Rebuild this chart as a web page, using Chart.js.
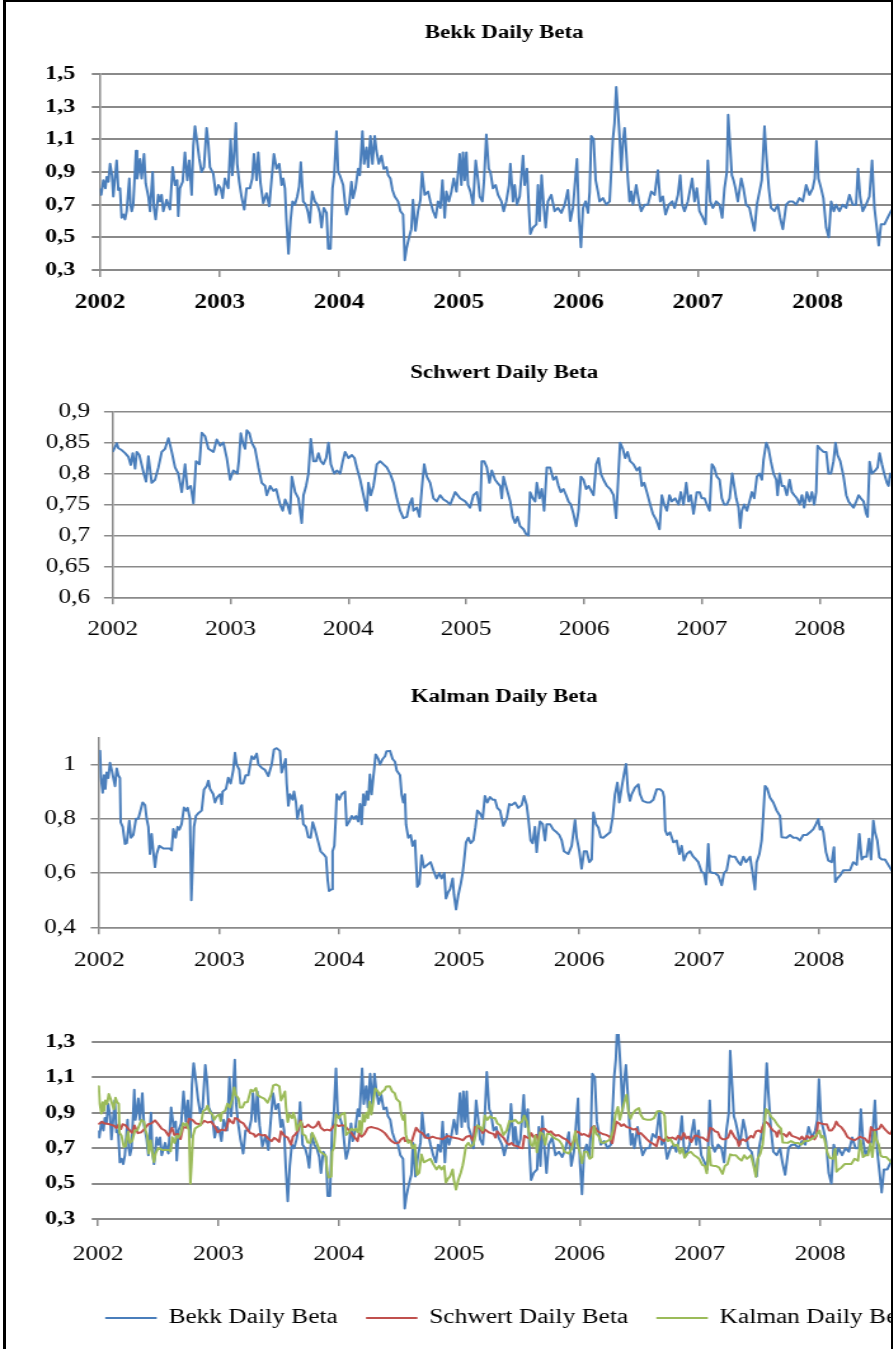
<!DOCTYPE html>
<html><head><meta charset="utf-8"><title>Daily Beta</title>
<script src="https://cdn.jsdelivr.net/npm/chart.js@4.4.1/dist/chart.umd.min.js"></script>
<style>
html,body{margin:0;padding:0;width:893px;height:1349px;overflow:hidden;background:#fff;}
.wrap{position:absolute;left:0;transform-origin:0 0;transform:scaleX(1.27);}
.wrap canvas{display:block;}
#frame{position:absolute;left:3px;top:0;width:885px;height:1400px;border-left:3px solid #000;border-top:2px solid #000;border-right:2px solid #000;z-index:10;pointer-events:none;}
</style></head><body>
<div class="wrap" style="top:0px"><canvas id="bekk" width="794" height="330"></canvas></div>
<div class="wrap" style="top:340px"><canvas id="schwert" width="794" height="340"></canvas></div>
<div class="wrap" style="top:680px"><canvas id="kalman" width="794" height="340"></canvas></div>
<div class="wrap" style="top:1020px"><canvas id="all" width="794" height="318"></canvas></div>
<div id="frame"></div>
<script>
const START_YEAR = 2002;
const yearTicks = [2002, 2003, 2004, 2005, 2006, 2007, 2008];
const bekkTicks = [0.3, 0.5, 0.7, 0.9, 1.1, 1.3, 1.5];
const schwertTicks = [0.6, 0.65, 0.7, 0.75, 0.8, 0.85, 0.9];
const kalmanTicks = [0.4, 0.6, 0.8, 1];
const combinedTicks = [0.3, 0.5, 0.7, 0.9, 1.1, 1.3];
const seriesNames = ['Bekk Daily Beta', 'Schwert Daily Beta', 'Kalman Daily Beta'];

// years since START_YEAR
const bekkT = [
0,.01,.028,.045,.056,.07,.084,.1,.111,.125,
.139,.153,.167,.181,.195,.209,.223,.245,.255,.265,
.278,.301,.31,.32,.334,.348,.368,.382,.404,.418,
.44,.451,.465,.487,.501,.515,.529,.557,.585,.607,
.627,.645,.654,.668,.691,.71,.73,.746,.766,.78,
.794,.813,.83,.849,.869,.891,.905,.919,.947,.969,
.989,1.008,1.025,1.044,1.072,1.092,1.106,1.119,1.136,1.147,
1.164,1.183,1.206,1.225,1.253,1.273,1.287,1.309,1.323,1.342,
1.365,1.392,1.415,1.434,1.454,1.476,1.498,1.518,1.532,1.546,
1.559,1.576,1.593,1.61,1.629,1.649,1.665,1.679,1.699,1.721,
1.74,1.754,1.774,1.796,1.818,1.838,1.852,1.871,1.894,1.908,
1.927,1.944,1.958,1.977,1.991,2.005,2.033,2.047,2.061,2.083,
2.102,2.116,2.136,2.158,2.172,2.194,2.208,2.228,2.242,2.261,
2.278,2.297,2.311,2.331,2.353,2.373,2.395,2.409,2.428,2.445,
2.464,2.492,2.512,2.534,2.548,2.562,2.584,2.603,2.617,2.637,
2.659,2.679,2.693,2.715,2.743,2.762,2.785,2.807,2.826,2.846,
2.863,2.882,2.896,
2.917,2.938,2.957,2.98,3.007,3.021,3.035,3.049,3.063,3.077,
3.097,3.119,3.141,3.161,3.175,3.197,3.211,3.23,3.25,3.264,
3.286,3.308,3.328,3.356,3.375,3.397,3.42,3.431,3.453,3.467,
3.486,3.509,3.537,3.55,3.57,3.587,3.598,3.62,3.648,3.662,
3.676,3.692,3.709,3.726,3.745,3.773,3.801,3.829,3.857,3.885,
3.912,3.932,3.954,3.988,4.004,4.021,4.038,4.06,4.08,4.094,
4.107,4.127,4.144,4.163,4.177,4.205,4.233,4.261,4.274,4.288,
4.302,4.316,4.33,4.344,4.358,4.372,4.386,4.4,4.414,4.428,
4.442,4.456,4.483,4.506,4.525,4.553,4.581,4.609,4.637,4.664,
4.684,4.706,4.728,4.756,4.784,4.804,4.832,4.851,4.868,4.887,
4.915,4.951,4.971,4.99,5.012,5.04,5.063,5.082,5.102,5.124,
5.152,5.18,5.202,5.221,5.241,5.252,5.269,5.283,5.297,5.313,
5.333,5.361,5.38,5.402,5.43,5.453,5.472,5.492,5.514,5.533,
5.556,5.569,5.592,5.611,5.639,5.667,5.686,5.709,5.737,5.764,
5.792,5.82,5.848,5.876,5.904,5.932,5.959,5.976,5.99,6.007,
6.029,6.048,6.071,6.093,6.113,6.135,6.154,6.182,6.21,6.238,
6.266,6.294,6.321,6.338,6.355,6.377,6.405,6.433,6.455,6.475,
6.494,6.511,6.53,6.558,6.586,6.614,6.64];
const bekkBeta = [
.80,.76,.85,.80,.87,.84,.95,.88,.75,.86,
.97,.79,.80,.62,.64,.61,.66,.86,.70,.66,
.70,1.03,.86,.90,.98,.86,1.01,.83,.75,.66,
.90,.68,.61,.76,.72,.76,.66,.73,.67,.93,
.82,.85,.63,.80,.84,1.02,.85,.97,.76,1.06,
1.18,1.08,.98,.90,.93,1.17,1.08,.93,.89,.76,
.82,.80,.74,.86,.80,1.10,.88,.99,1.20,.95,
.84,.75,.67,.80,.80,.86,1.01,.85,1.02,.83,
.71,.77,.69,.85,1.01,.92,.95,.82,.86,.80,
.60,.40,.60,.72,.70,.75,.81,.96,.72,.70,
.65,.59,.78,.72,.70,.65,.56,.68,.65,.43,
.43,.80,.88,1.15,.90,.88,.82,.72,.64,.70,
.84,.74,.80,.92,.88,1.15,.95,1.05,.93,1.12,
.95,1.12,1.03,.95,1.00,.92,.93,.88,.86,.79,
.75,.72,.66,.64,.36,.43,.50,.55,.73,.54,
.66,.73,.90,.76,.78,.72,.66,.62,.72,.68,
.85,.62,.78,
.72,.78,.86,.78,1.01,.82,1.02,.85,1.02,.82,
.78,.70,.97,.85,.75,.72,.85,1.13,.92,.90,
.80,.82,.76,.72,.66,.72,.82,.95,.72,.82,
.70,.75,1.00,.82,.92,.66,.52,.56,.58,.82,
.60,.88,.70,.56,.72,.76,.66,.68,.65,.70,
.79,.60,.68,.98,.62,.44,.68,.72,.65,.78,
1.12,1.10,.85,.78,.72,.74,.70,.72,.90,1.10,
1.20,1.42,1.28,1.12,.91,1.08,1.17,1.02,.85,.72,
.78,.70,.82,.72,.66,.70,.70,.78,.76,.91,
.72,.75,.64,.70,.72,.68,.76,.88,.70,.66,
.72,.86,.72,.80,.66,.62,.58,.97,.72,.68,
.72,.70,.62,.80,.90,1.25,1.05,.88,.85,.80,
.72,.86,.80,.70,.68,.60,.54,.70,.78,.85,
1.18,1.02,.80,.68,.66,.70,.62,.55,.70,.72,
.72,.70,.74,.72,.82,.76,.80,.86,1.09,.86,
.80,.74,.56,.50,.72,.66,.70,.66,.70,.68,
.76,.70,.70,.92,.75,.66,.70,.75,.97,.68,
.56,.45,.58,.58,.62,.66,.68];

const schwertT = [
0,.02,.034,.048,.076,.105,.133,.153,.17,.19,
.204,.226,.246,.266,.283,.303,.331,.359,.388,.416,
.444,.473,.501,.529,.557,.586,.614,.634,.662,.685,
.707,.736,.756,.784,.812,.855,.883,.911,.939,.968,
.996,1.024,1.058,1.07,1.087,1.104,1.123,1.138,1.16,1.18,
1.208,1.237,1.265,1.293,1.307,1.336,1.364,1.387,1.42,1.443,
1.463,1.483,1.505,1.52,1.548,1.576,1.604,1.619,1.641,1.661,
1.681,1.704,1.726,1.746,1.766,1.788,1.811,1.831,1.851,1.879,
1.902,1.93,1.952,1.972,2.001,2.029,2.052,2.071,2.1,2.128,
2.156,2.17,2.19,2.213,2.241,2.269,2.298,2.326,2.354,2.383,
2.411,2.439,2.467,2.496,2.518,2.541,2.552,2.581,2.603,2.623,
2.643,2.666,2.694,2.722,2.75,2.779,2.807,2.835,2.864,2.906,
2.948,2.991,3.033,3.061,3.09,3.118,3.132,3.152,3.175,3.197,
3.217,3.245,3.265,3.288,3.302,3.316,3.344,3.373,3.395,3.415,
3.435,3.457,3.486,3.508,3.528,3.542,3.565,3.585,3.599,3.622,
3.641,3.661,3.684,3.712,3.74,3.763,3.783,3.803,3.825,3.848,
3.868,3.888,3.91,3.933,3.953,3.973,3.995,4.018,4.038,4.066,
4.08,4.103,4.123,4.142,4.165,4.193,4.222,4.25,4.272,4.292,
4.306,4.329,4.349,4.369,4.391,4.42,4.448,4.471,4.49,4.51,
4.533,4.561,4.584,4.612,4.64,4.66,4.68,4.703,4.725,4.745,
4.773,4.802,4.821,4.844,4.867,4.887,4.906,4.929,4.957,4.98,
4.999,5.022,5.042,5.065,5.085,5.104,5.127,5.15,5.169,5.189,
5.212,5.235,5.257,5.274,5.291,5.311,5.325,5.339,5.359,5.382,
5.404,5.424,5.444,5.467,5.489,5.509,5.523,5.546,5.566,5.585,
5.608,5.631,5.642,5.659,5.679,5.699,5.721,5.744,5.764,5.784,
5.806,5.829,5.849,5.868,5.891,5.914,5.934,5.953,5.97,5.982,
6.004,6.032,6.055,6.075,6.095,6.117,6.134,6.151,6.174,6.202,
6.225,6.245,6.264,6.287,6.31,6.33,6.349,6.372,6.394,6.406,
6.423,6.443,6.471,6.491,6.508,6.528,6.547,6.57,6.584,6.598,
6.627];
const schwertBeta = [
.835,.843,.849,.841,.838,.833,.827,.814,.833,.808,
.835,.830,.814,.798,.787,.828,.785,.790,.810,.835,
.840,.857,.835,.810,.800,.770,.815,.775,.780,.752,
.820,.815,.866,.860,.840,.835,.855,.845,.850,.825,
.790,.805,.800,.820,.865,.850,.840,.870,.865,.850,
.840,.810,.785,.780,.765,.780,.772,.775,.750,.740,
.758,.750,.735,.795,.770,.760,.720,.765,.780,.800,
.856,.820,.820,.833,.820,.815,.825,.850,.815,.800,
.805,.800,.820,.835,.825,.830,.825,.810,.790,.765,
.740,.785,.765,.780,.815,.820,.815,.810,.800,.785,
.760,.740,.728,.730,.750,.760,.740,.745,.730,.775,
.815,.795,.785,.760,.755,.765,.758,.755,.750,.770,
.760,.755,.745,.765,.770,.740,.820,.820,.810,.785,
.805,.790,.785,.780,.760,.795,.775,.755,.730,.720,
.730,.715,.710,.702,.700,.770,.760,.755,.785,.760,
.775,.740,.810,.810,.790,.795,.780,.770,.775,.765,
.755,.750,.735,.715,.740,.795,.790,.775,.780,.770,
.765,.815,.825,.800,.790,.780,.775,.765,.728,.800,
.850,.840,.825,.835,.820,.815,.805,.810,.780,.785,
.770,.750,.735,.725,.710,.765,.750,.740,.765,.755,
.760,.750,.770,.750,.785,.755,.765,.735,.770,.770,
.760,.760,.750,.740,.815,.810,.795,.790,.760,.750,
.750,.760,.800,.780,.760,.745,.712,.740,.750,.740,
.755,.770,.760,.795,.800,.790,.822,.850,.840,.820,
.800,.790,.765,.800,.780,.780,.765,.790,.770,.765,
.760,.750,.765,.745,.770,.755,.770,.750,.770,.845,
.840,.835,.835,.800,.800,.820,.850,.830,.820,.795,
.765,.755,.750,.745,.755,.765,.760,.755,.735,.730,
.819,.800,.805,.810,.833,.815,.800,.785,.780,.800,
.790];

const kalmanT = [
0,.006,.014,.028,.039,.05,.061,.075,.089,.103,
.117,.131,.145,.158,.172,.178,.195,.214,.228,.25,
.264,.283,.306,.325,.339,.361,.381,.395,.409,.422,
.436,.45,.464,.478,.5,.534,.561,.589,.603,.617,
.636,.653,.667,.686,.706,.723,.736,.756,.767,.778,
.789,.806,.825,.853,.873,.895,.909,.923,.95,.964,
.984,1.006,1.02,1.028,1.056,1.075,1.095,1.117,1.131,1.145,
1.167,1.178,1.2,1.22,1.242,1.27,1.289,1.312,1.326,1.353,
1.381,1.409,1.437,1.456,1.478,1.506,1.52,1.534,1.553,1.562,
1.576,1.59,1.612,1.623,1.64,1.651,1.667,1.687,1.701,1.723,
1.742,1.762,1.779,1.798,1.826,1.845,1.868,1.89,1.904,1.915,
1.937,1.945,1.959,1.97,1.979,2.001,2.02,2.048,2.062,2.084,
2.104,2.123,2.14,2.159,2.173,2.187,2.201,2.215,2.229,2.243,
2.256,2.27,2.284,2.304,2.326,2.34,2.362,2.382,2.395,2.423,
2.445,2.465,2.479,2.507,2.52,2.534,2.548,2.557,2.576,2.596,
2.612,2.632,2.651,2.668,2.687,2.707,2.734,2.762,2.785,2.812,
2.835,2.854,2.876,2.89,2.909,2.924,2.946,2.957,2.974,2.993,
3.013,3.029,3.04,3.057,3.077,3.096,3.118,3.135,3.152,3.174,
3.196,3.215,3.235,3.257,3.279,3.299,3.318,3.341,3.368,3.396,
3.418,3.438,3.466,3.493,3.521,3.541,3.563,3.577,3.596,3.613,
3.632,3.646,3.66,3.674,3.696,3.716,3.73,3.757,3.785,3.813,
3.835,3.855,3.874,3.91,3.938,3.966,3.98,4.002,4.021,4.041,
4.063,4.085,4.105,4.119,4.141,4.16,4.18,4.202,4.23,4.258,
4.28,4.299,4.319,4.335,4.355,4.374,4.391,4.408,4.424,4.438,
4.466,4.494,4.508,4.53,4.563,4.591,4.619,4.647,4.674,4.697,
4.708,4.719,4.735,4.758,4.786,4.813,4.836,4.855,4.874,4.897,
4.925,4.952,4.975,4.994,5.022,5.041,5.058,5.077,5.091,5.114,
5.133,5.161,5.189,5.208,5.23,5.253,5.272,5.3,5.327,5.347,
5.369,5.391,5.425,5.447,5.466,5.48,5.503,5.522,5.536,5.55,
5.569,5.591,5.619,5.647,5.675,5.689,5.73,5.758,5.786,5.814,
5.842,5.869,5.897,5.925,5.953,5.975,5.994,6.008,6.022,6.036,
6.058,6.078,6.106,6.125,6.136,6.153,6.175,6.203,6.231,6.258,
6.286,6.314,6.336,6.356,6.375,6.397,6.417,6.434,6.453,6.467,
6.486,6.503,6.522,6.55,6.578,6.606,6.648];
const kalmanBeta = [
1.04,1.05,.951,.896,.96,.91,.97,.95,1.006,.98,
.95,.92,.985,.96,.95,.787,.77,.707,.71,.793,
.73,.74,.80,.80,.823,.86,.85,.80,.77,.67,
.744,.68,.622,.67,.70,.69,.69,.69,.683,.762,
.73,.77,.76,.78,.841,.83,.84,.80,.50,.628,
.77,.811,.82,.83,.908,.92,.94,.91,.89,.86,
.88,.89,.854,.90,.91,.951,.93,.98,1.043,1.0,
.98,.93,.93,.96,.96,1.03,1.02,1.04,1.0,.988,
.98,.957,1.0,1.055,1.06,1.05,.97,.99,1.02,.93,
.848,.89,.87,.90,.86,.80,.83,.85,.78,.77,
.732,.73,.787,.76,.713,.68,.67,.658,.573,.534,
.54,.68,.70,.79,.89,.87,.89,.90,.775,.79,
.81,.80,.81,.79,.854,.78,.89,.85,.90,.87,
.963,.89,.95,1.037,1.02,1.0,1.02,1.03,1.049,1.05,
1.02,1.01,.978,.96,.89,.86,.89,.778,.73,.74,
.70,.72,.549,.56,.665,.62,.63,.64,.61,.58,
.60,.58,.60,.506,.53,.54,.58,.52,.466,.52,
.56,.60,.64,.713,.73,.71,.72,.768,.83,.82,
.80,.884,.86,.88,.87,.87,.84,.83,.774,.80,
.854,.85,.86,.84,.85,.884,.85,.80,.72,.71,
.77,.677,.74,.79,.78,.72,.78,.78,.76,.75,
.74,.72,.68,.67,.70,.795,.73,.68,.616,.68,
.68,.64,.65,.823,.78,.768,.732,.73,.74,.75,
.805,.89,.933,.86,.915,.963,1.002,.90,.866,.89,
.915,.927,.89,.866,.86,.86,.87,.909,.909,.90,
.88,.756,.74,.75,.713,.72,.67,.70,.646,.67,
.68,.66,.65,.64,.604,.60,.558,.707,.604,.60,
.60,.59,.555,.60,.61,.665,.66,.66,.64,.63,
.66,.64,.66,.60,.539,.64,.67,.72,.817,.921,
.91,.878,.86,.83,.81,.732,.73,.74,.73,.73,
.72,.74,.74,.75,.762,.78,.799,.76,.77,.75,
.677,.646,.64,.695,.567,.58,.59,.61,.61,.61,
.64,.63,.744,.65,.66,.66,.726,.65,.793,.75,
.72,.658,.65,.65,.63,.61,.60];

const SERIF = "'Liberation Serif','Times New Roman',serif";
const GRID = '#8a8a8a';
const COLORS = ['#4a7ebb', '#c0504d', '#9bbb59'];

function points(t, v) {
  const n = Math.min(t.length, v.length);
  const out = [];
  for (let i = 0; i < n; i++) out.push({ x: START_YEAR + t[i], y: v[i] });
  return out;
}
const comma = v => String(v).replace('.', ',');

function lineSet(idx, t, v, order) {
  return { label: seriesNames[idx], data: points(t, v), borderColor: COLORS[idx], backgroundColor: COLORS[idx],
           borderWidth: 2, pointRadius: 0, tension: 0, fill: false, order: order, borderJoinStyle: 'round' };
}

function makeChart(id, c) {
  return new Chart(document.getElementById(id), {
    type: 'line',
    data: { datasets: c.sets },
    options: {
      responsive: false, animation: false, events: [],
      layout: { autoPadding: false, padding: { left: c.padL || 0, right: 0, top: c.padT || 0, bottom: 0 } },
      plugins: {
        tooltip: { enabled: false },
        title: c.title ? { display: true, text: c.title, color: '#000',
          font: { family: SERIF, size: 18, weight: 'bold' }, padding: { top: c.tPad[0], bottom: c.tPad[1] } } : { display: false },
        legend: c.legend ? { display: true, position: 'bottom',
          labels: { boxWidth: 39, boxHeight: 0, padding: 23, color: '#000', font: { family: SERIF, size: 20 },
                    sort: (a, b) => a.datasetIndex - b.datasetIndex } } : { display: false }
      },
      scales: {
        x: { type: 'linear', min: START_YEAR, max: c.xMax,
          afterBuildTicks: s => { s.ticks = yearTicks.map(v => ({ value: v })); },
          afterFit: s => { s.height = c.xH; s.paddingLeft = 0; s.paddingRight = 0; },
          ticks: { autoSkip: false, maxRotation: 0, padding: c.xPad, color: '#000',
                   font: { family: SERIF, size: 20, weight: c.xBold ? 'bold' : 'normal' }, callback: v => String(v) },
          grid: { drawOnChartArea: false, drawTicks: true, tickLength: 7, color: GRID, lineWidth: 1.5 },
          border: { display: true, color: GRID, width: c.gridW } },
        y: { type: 'linear', min: c.yMin, max: c.yMax,
          afterBuildTicks: s => { s.ticks = c.yTicks.map(v => ({ value: v })); },
          afterFit: s => { s.width = c.yW; s.paddingTop = 0; s.paddingBottom = 0; },
          ticks: { padding: c.yPad, color: '#000', font: { family: SERIF, size: c.yFont, weight: c.yBold ? 'bold' : 'normal' },
                   callback: v => comma(v) },
          grid: { drawOnChartArea: true, drawTicks: true, tickLength: c.yTl, color: GRID, lineWidth: c.gridW },
          border: { display: c.yBorder, color: GRID, width: 1.5 } }
      }
    }
  });
}

makeChart('bekk', { sets: [lineSet(0, bekkT, bekkBeta, 0)], title: 'Bekk Daily Beta', tPad: [22.7, 29.7],
  xMax: 2009.595, xH: 60, xPad: 14, xBold: true,
  yMin: 0.3, yMax: 1.5, yTicks: bekkTicks, yW: 78.74, yTl: 6.5, yPad: 13, yFont: 19, yBold: true, yBorder: true, gridW: 2 });

makeChart('schwert', { sets: [lineSet(0, schwertT, schwertBeta, 0)], title: 'Schwert Daily Beta', tPad: [22.5, 27.6],
  xMax: 2009.601, xH: 82.7, xPad: 13.7,
  yMin: 0.6, yMax: 0.9, yTicks: schwertTicks, yW: 88.74, yTl: 6.85, yPad: 10.9, yFont: 20, yBorder: true, gridW: 1.5 });

makeChart('kalman', { sets: [lineSet(0, kalmanT, kalmanBeta, 0)], title: 'Kalman Daily Beta', tPad: [6.2, 29.5],
  xMax: 2009.579, xH: 92.7, xPad: 14.7,
  yMin: 0.4, yMax: 1.1, yTicks: kalmanTicks, yW: 78.19, yTl: 6.8, yPad: 11.6, yFont: 20, yBorder: true, gridW: 1.5 });

makeChart('all', { sets: [lineSet(0, bekkT, bekkBeta, 3), lineSet(1, schwertT, schwertBeta, 2), lineSet(2, kalmanT, kalmanBeta, 1)],
  legend: true, padL: 10.6, padT: 14, xMax: 2009.564, xH: 66, xPad: 17,
  yMin: 0.3, yMax: 1.345, yTicks: combinedTicks, yW: 66.6, yTl: 5, yPad: 13, yFont: 19, yBold: true, yBorder: false, gridW: 2 });
</script>
</body></html>
